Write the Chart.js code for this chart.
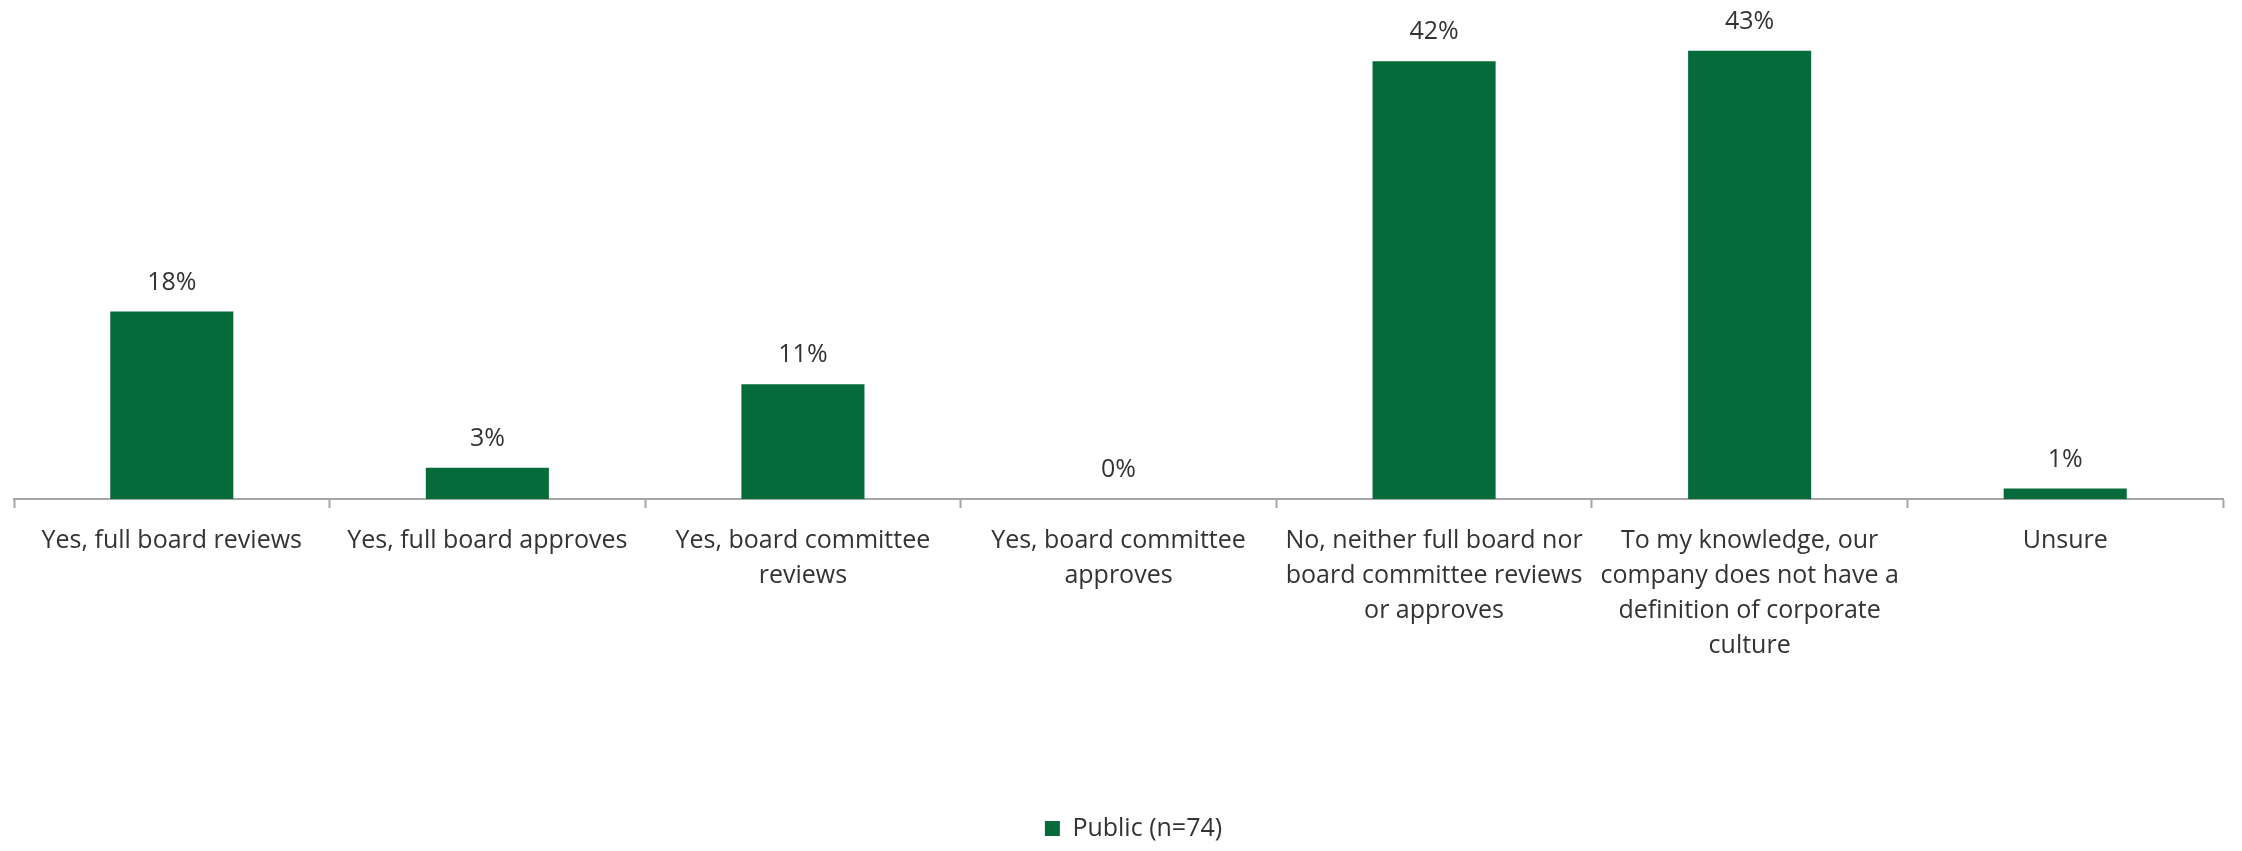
<!DOCTYPE html>
<html>
<head>
<meta charset="utf-8">
<script src="https://cdn.jsdelivr.net/npm/chart.js@4/dist/chart.umd.min.js"></script>
<style>
  html, body { margin: 0; padding: 0; background: #fff; }
  #wrap { width: 2242px; height: 851px; }
</style>
</head>
<body>
<div id="wrap"><canvas id="bar-chart"></canvas></div>
<script>
// Category labels, already split into lines
var answers = [
  "Yes, full board reviews",
  "Yes, full board approves",
  ["Yes, board committee", "reviews"],
  ["Yes, board committee", "approves"],
  ["No, neither full board nor", "board committee reviews", "or approves"],
  ["To my knowledge, our", "company does not have a", "definition of corporate", "culture"],
  "Unsure"
];
// Share of respondents, in percent
var publicShare = [18, 3, 11, 0, 42, 43, 1];
var seriesName = "Public (n=74)";

var green = "#066b3a";
var textColor = "#333333";
var fontFamily = "'Open Sans', 'Noto Sans', sans-serif";

// writes the percentage above each bar
var valueLabels = {
  id: 'valueLabels',
  afterDatasetsDraw: function(chart) {
    var ctx = chart.ctx;
    var meta = chart.getDatasetMeta(0);
    ctx.save();
    ctx.font = "25px " + fontFamily;
    ctx.fillStyle = textColor;
    ctx.textAlign = "center";
    ctx.textBaseline = "middle";
    meta.data.forEach(function(bar, i) {
      ctx.fillText(publicShare[i] + "%", bar.x, bar.y - 29);
    });
    ctx.restore();
  }
};

// nudge the legend a little to the right of centre
var legendShift = {
  id: 'legendShift',
  afterLayout: function(chart) {
    if (chart.legend) {
      chart.legend.left += 15;
      chart.legend.right += 15;
    }
  }
};

var ctx = document.getElementById("bar-chart");
var myChart = new Chart(ctx, {
  type: 'bar',
  data: {
    labels: answers,
    datasets: [
      {
        label: seriesName,
        data: publicShare,
        backgroundColor: green,
        borderWidth: 0,
        barPercentage: 0.39,
        categoryPercentage: 1
      }
    ]
  },
  plugins: [valueLabels, legendShift],
  options: {
    responsive: true,
    maintainAspectRatio: false,
    animation: false,
    layout: {
      padding: { top: 30, left: 14, right: 19, bottom: 0 }
    },
    plugins: {
      legend: {
        position: 'bottom',
        labels: {
          font: { family: fontFamily, size: 25 },
          color: textColor,
          boxWidth: 15,
          boxHeight: 15,
          padding: 10
        }
      },
      tooltip: { enabled: false }
    },
    scales: {
      x: {
        // leave empty room between the category labels and the legend
        afterFit: function(scale) {
          scale.height += 128;
        },
        grid: {
          display: true,
          offset: true,
          drawOnChartArea: false,
          drawTicks: true,
          tickLength: 9,
          tickWidth: 2,
          tickColor: "#a6a6a6"
        },
        border: { display: true, color: "#a6a6a6", width: 2 },
        ticks: {
          color: textColor,
          font: { family: fontFamily, size: 25, lineHeight: 1.4 },
          padding: 15,
          maxRotation: 0,
          autoSkip: false
        }
      },
      y: {
        display: false,
        min: 0,
        max: 45
      }
    }
  }
});
</script>
</body>
</html>
